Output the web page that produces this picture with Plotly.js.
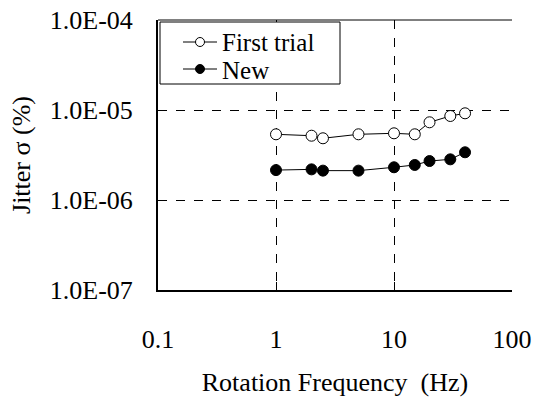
<!DOCTYPE html>
<html>
<head>
<meta charset="utf-8">
<script src="https://cdn.plot.ly/plotly-3.0.1.min.js"></script>
<style>html,body{margin:0;padding:0;background:#fff;}#chart{width:533px;height:397px;}</style>
</head>
<body>
<div id="chart"></div>
<script>
var freq = [1, 2, 2.5, 5, 10, 15, 20, 30, 40];
var firstTrial = [5.37e-6, 5.18e-6, 4.85e-6, 5.37e-6, 5.51e-6, 5.37e-6, 7.3e-6, 8.58e-6, 9.19e-6];
var newSeries = [2.15e-6, 2.19e-6, 2.12e-6, 2.12e-6, 2.31e-6, 2.45e-6, 2.71e-6, 2.83e-6, 3.39e-6];
var seriesNames = ['First trial', 'New'];
var xTickVals = [0.1, 1, 10, 100];
var xTickText = ['0.1', '1', '10', '100'];
var yTickVals = [1e-7, 1e-6, 1e-5, 1e-4];
var yTickText = ['1.0E-07', '1.0E-06', '1.0E-05', '1.0E-04'];

var FONT = 'Liberation Serif, Times New Roman, serif';
var fills = ['#fff', '#000'];
var traces = [firstTrial, newSeries].map(function (ys, i) {
  return {x: freq, y: ys, name: seriesNames[i], type: 'scatter', mode: 'lines+markers',
    showlegend: false,
    line: {color: '#000', width: 1},
    marker: {symbol: 'circle', size: 11, color: fills[i], line: {color: '#000', width: 1}}};
});

// Plot area in pixels (for a compact legend drawn with shapes/annotations)
var M = {l: 158, r: 21, t: 20, b: 107}, W = 533, H = 397;
var PW = W - M.l - M.r, PH = H - M.t - M.b;
function px(x) { return (x - M.l) / PW; }
function py(y) { return (H - M.b - y) / PH; }

var shapes = [
  {type: 'line', xref: 'paper', yref: 'paper', x0: 0, x1: 1, y0: 1, y1: 1, line: {color: '#000', width: 1}},
  {type: 'rect', xref: 'paper', yref: 'paper', x0: px(160), x1: px(340), y0: py(84), y1: py(22),
   fillcolor: '#fff', line: {color: '#000', width: 1}, layer: 'above'}
];
var annotations = [];
var rowY = [42, 69];
seriesNames.forEach(function (nm, i) {
  shapes.push({type: 'line', xref: 'paper', yref: 'paper', x0: px(183), x1: px(217), y0: py(rowY[i]), y1: py(rowY[i]),
    line: {color: '#000', width: 1}, layer: 'above'});
  shapes.push({type: 'circle', xref: 'paper', yref: 'paper', xsizemode: 'pixel', ysizemode: 'pixel',
    xanchor: px(200), yanchor: py(rowY[i]), x0: -4.5, x1: 4.5, y0: -4.5, y1: 4.5,
    fillcolor: fills[i], line: {color: '#000', width: 1}, layer: 'above'});
  annotations.push({xref: 'paper', yref: 'paper', x: px(221), y: py(rowY[i] + 1), xanchor: 'left', yanchor: 'middle',
    text: nm, showarrow: false, borderpad: 0, font: {family: FONT, size: 25, color: '#000'}});
});

var layout = {
  width: W, height: H, margin: M,
  paper_bgcolor: '#fff', plot_bgcolor: '#fff',
  font: {family: FONT, size: 26, color: '#000'},
  showlegend: false,
  xaxis: {type: 'log', range: [-1, 2], tickvals: xTickVals, ticktext: xTickText,
          showline: true, linecolor: '#000', linewidth: 2,
          showgrid: true, gridcolor: '#000', griddash: 'dash', gridwidth: 1,
          ticks: 'inside', ticklen: 8, tickcolor: '#000',
          ticklabelstandoff: 25, zeroline: false,
          title: {text: 'Rotation Frequency  (Hz)', standoff: 25, font: {family: FONT, size: 26}}},
  yaxis: {type: 'log', range: [-7, -4], tickvals: yTickVals, ticktext: yTickText,
          showline: true, linecolor: '#000', linewidth: 2,
          showgrid: true, gridcolor: '#000', griddash: 'dash', gridwidth: 1,
          ticks: '', ticklabelstandoff: 18, zeroline: false,
          title: {text: 'Jitter σ (%)', standoff: 12, font: {family: FONT, size: 26}}},
  shapes: shapes,
  annotations: annotations
};
Plotly.newPlot('chart', traces, layout, {staticPlot: true, displayModeBar: false});
</script>
</body>
</html>
